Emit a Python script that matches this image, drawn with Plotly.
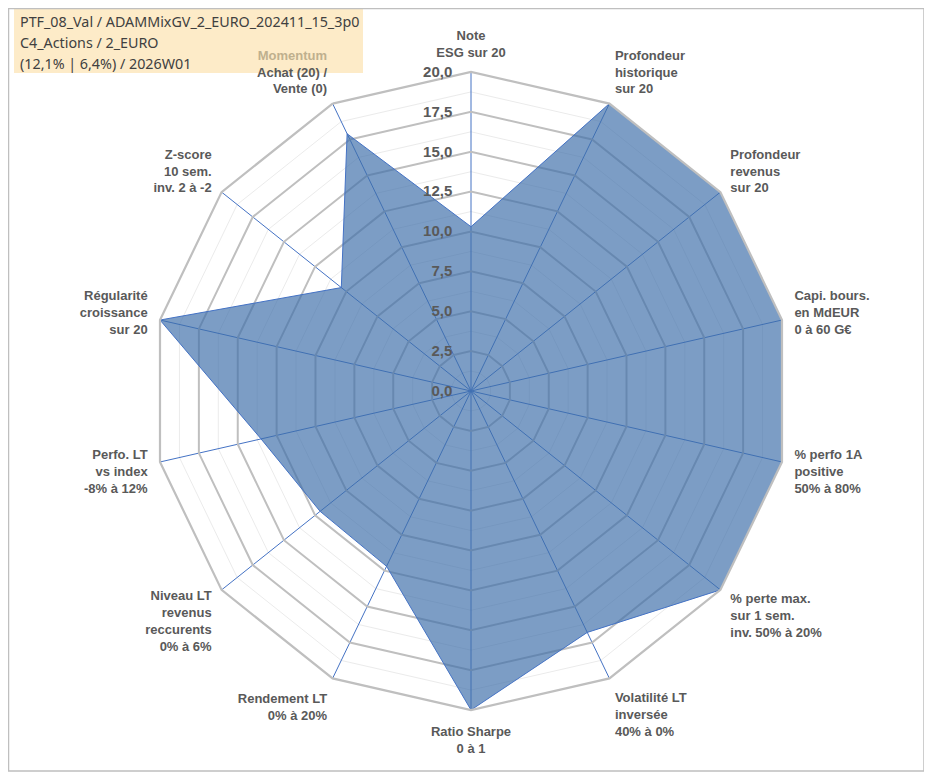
import plotly.graph_objects as go

categories = [
    "ESG", "ProfHist", "ProfRev", "Capi", "Perfo1A", "PerteMax", "Volat",
    "Sharpe", "Rendement", "NiveauRev", "PerfoLT", "Regularite", "Zscore", "Momentum",
]
labels = [
    "Note<br>ESG sur 20",
    "Profondeur<br>historique<br>sur 20",
    "Profondeur<br>revenus<br>sur 20",
    "Capi. bours.<br>en MdEUR<br>0 à 60 G€",
    "% perfo 1A<br>positive<br>50% à 80%",
    "% perte max.<br>sur 1 sem.<br>inv. 50% à 20%",
    "Volatilité LT<br>inversée<br>40% à 0%",
    "Ratio Sharpe<br>0 à 1",
    "Rendement LT<br>0% à 20%",
    "Niveau LT<br>revenus<br>reccurents<br>0% à 6%",
    "Perfo. LT<br>vs index<br>-8% à 12%",
    "Régularité<br>croissance<br>sur 20",
    "Z-score<br>10 sem.<br>inv. 2 à -2",
    "<span style='color:#BFB08E'>Momentum</span><br>Achat (20) /<br>Vente (0)",
]
values = [10.3, 20, 20, 20, 20, 20, 16.8, 20, 12.2, 12.1, 13.5, 20, 10.4, 17.9]

major_ticks = [0, 2.5, 5, 7.5, 10, 12.5, 15, 17.5, 20]
minor_ticks = [1.25, 3.75, 6.25, 8.75, 11.25, 13.75, 16.25, 18.75]

title_lines = [
    "PTF_08_Val / ADAMMixGV_2_EURO_202411_15_3p0",
    "C4_Actions / 2_EURO",
    "(12,1% | 6,4%) / 2026W01",
]

# page has an 8px body margin: figure starts at window (8, 8)
OFF = 8
W, H = 924, 768


def px(x):
    return (x - OFF) / W


def py(y):
    return 1 - (y - OFF) / H


cx, cy, R = 471, 391, 319
dom_x = [px(cx - R), px(cx + R)]
dom_y = [py(cy + R), py(cy - R)]

fig = go.Figure()

# invisible trace to build the minor-grid subplot
fig.add_trace(go.Scatterpolar(
    r=[0] * len(categories), theta=categories, mode="markers",
    marker=dict(opacity=0), hoverinfo="skip", showlegend=False, subplot="polar",
))

fig.add_trace(go.Scatterpolar(
    r=values + values[:1], theta=categories + categories[:1],
    mode="lines", fill="toself",
    fillcolor="rgba(62,110,170,0.68)",
    line=dict(color="#4472C4", width=1),
    showlegend=False, subplot="polar2",
))

axis_font = dict(family="Liberation Sans, Arial, sans-serif", size=13, color="#595959", weight="bold")

fig.update_layout(
    width=W, height=H,
    margin=dict(l=0, r=0, t=0, b=0),
    paper_bgcolor="white",
    separators=", ",
    showlegend=False,
    polar=dict(
        domain=dict(x=dom_x, y=dom_y),
        bgcolor="white",
        gridshape="linear",
        radialaxis=dict(range=[0, 20], tickvals=minor_ticks, showticklabels=False,
                        gridcolor="#EBEBEB", gridwidth=1, showline=False, ticks=""),
        angularaxis=dict(type="category", categoryarray=categories, direction="clockwise",
                         rotation=90, showgrid=False, showline=False,
                         showticklabels=False, ticks=""),
    ),
    polar2=dict(
        domain=dict(x=dom_x, y=dom_y),
        bgcolor="rgba(0,0,0,0)",
        gridshape="linear",
        radialaxis=dict(range=[0, 20], tickvals=major_ticks, tickformat=".1f",
                        gridcolor="#BFBFBF", gridwidth=2.2, showline=False,
                        ticks="outside", ticklen=13, tickcolor="rgba(0,0,0,0)",
                        angle=90, tickangle=90, side="counterclockwise",
                        tickfont=dict(family="Liberation Sans, Arial, sans-serif", size=15,
                                      color="#595959", weight="bold")),
        angularaxis=dict(type="category", categoryarray=categories, direction="clockwise",
                         rotation=90, tickvals=categories, ticktext=labels,
                         gridcolor="#4472C4", gridwidth=1,
                         showline=True, linecolor="#BFBFBF", linewidth=2.2,
                         ticks="outside", ticklen=9, tickcolor="rgba(0,0,0,0)",
                         tickfont=axis_font),
    ),
)

# title box (drawn below the chart so axis labels stay on top)
fig.add_shape(type="rect", xref="paper", yref="paper", layer="below",
              x0=px(14), x1=px(363), y0=py(73), y1=py(9),
              fillcolor="#FDEBC8", line=dict(width=0))
for i, line in enumerate(title_lines):
    fig.add_annotation(
        xref="paper", yref="paper", x=px(18), y=py(22 + 21 * i),
        xanchor="left", yanchor="middle", text=line, align="left", showarrow=False,
        font=dict(family="Noto Sans, sans-serif", size=14.3, color="#404040"),
    )

fig.add_shape(type="rect", xref="paper", yref="paper",
              x0=px(8.5), x1=px(924), y0=py(771), y1=py(8.5),
              line=dict(color="#BFBFBF", width=1.5))
fig.add_shape(type="line", xref="paper", yref="paper",
              x0=px(930), x1=px(930), y0=0, y1=1,
              line=dict(color="#808080", width=2))

fig.write_html("out.html")
